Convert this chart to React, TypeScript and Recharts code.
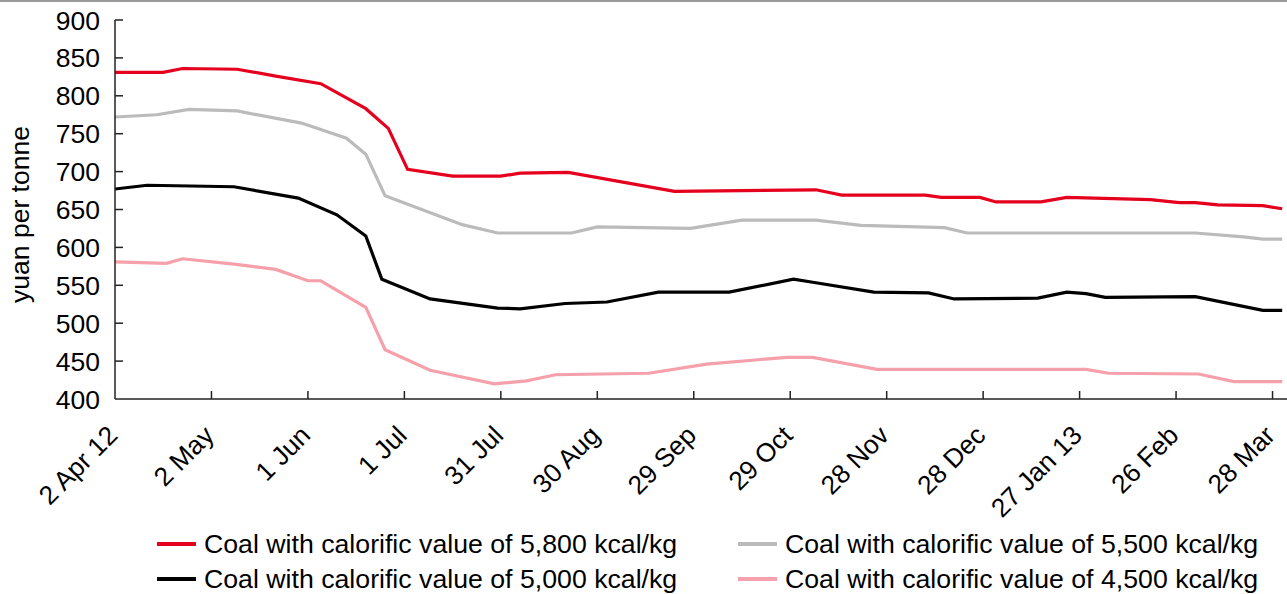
import React from 'react';
import { LineChart, Line, XAxis, YAxis } from 'recharts';

const FONT = '"Liberation Sans", Arial, Helvetica, sans-serif';

// x positions are days since 2 Apr 2012
const tickDays = [0, 30, 60, 90, 120, 150, 180, 210, 240, 270, 300, 330, 360];
const tickLabels = ['2 Apr 12', '2 May', '1 Jun', '1 Jul', '31 Jul', '30 Aug', '29 Sep', '29 Oct', '28 Nov', '28 Dec', '27 Jan 13', '26 Feb', '28 Mar'];
const yTicks = [400, 450, 500, 550, 600, 650, 700, 750, 800, 850, 900];

const redDays = [0, 15, 21, 38, 50, 64, 78, 85, 91, 105, 120, 126, 141, 174, 218, 226, 252, 257, 269, 274, 288, 296, 322, 331, 336, 343, 357, 363];
const redValues = [831, 831, 836, 835, 826, 816, 783, 757, 703, 694, 694, 698, 699, 674, 676, 669, 669, 666, 666, 660, 660, 666, 663, 659, 659, 656, 655, 651];

const grayDays = [0, 13, 23, 38, 58, 72, 78, 84, 108, 119, 142, 150, 179, 195, 218, 232, 258, 265, 336, 351, 357, 363];
const grayValues = [772, 775, 782, 780, 764, 744, 723, 668, 630, 619, 619, 627, 625, 636, 636, 629, 626, 619, 619, 614, 611, 611];

const blackDays = [0, 10, 37, 57, 69, 78, 83, 98, 119, 126, 140, 153, 169, 191, 211, 217, 236, 253, 261, 287, 296, 302, 308, 336, 357, 363];
const blackValues = [677, 682, 680, 665, 643, 615, 558, 532, 520, 519, 526, 528, 541, 541, 558, 554, 541, 540, 532, 533, 541, 539, 534, 535, 517, 517];

const pinkDays = [0, 16, 21, 37, 50, 60, 64, 78, 84, 98, 118, 128, 137, 166, 184, 209, 217, 237, 302, 309, 337, 348, 363];
const pinkValues = [581, 579, 585, 578, 571, 556, 556, 521, 465, 438, 420, 424, 432, 434, 446, 455, 455, 439, 439, 434, 433, 423, 423];

const seriesNames = [
  'Coal with calorific value of 5,800 kcal/kg',
  'Coal with calorific value of 5,500 kcal/kg',
  'Coal with calorific value of 5,000 kcal/kg',
  'Coal with calorific value of 4,500 kcal/kg',
];
const seriesColors = ['#E5001E', '#BBBBBB', '#000000', '#F5A0AA'];

const zip = (days: number[], vals: number[]) => days.map((d, i) => ({ day: d, value: vals[i] }));

const series = [
  { name: seriesNames[0], color: seriesColors[0], data: zip(redDays, redValues) },
  { name: seriesNames[1], color: seriesColors[1], data: zip(grayDays, grayValues) },
  { name: seriesNames[2], color: seriesColors[2], data: zip(blackDays, blackValues) },
  { name: seriesNames[3], color: seriesColors[3], data: zip(pinkDays, pinkValues) },
];

const XTick = (props: any) => {
  const { x, y, payload } = props;
  const idx = tickDays.indexOf(payload.value);
  const label = idx >= 0 ? tickLabels[idx] : '';
  const ax = x + 4;
  const ay = y + 38;
  return (
    <g>
      {idx > 0 && <line x1={x} y1={y} x2={x} y2={y - 8} stroke="#222" strokeWidth={1.5} />}
      <text x={ax} y={ay} textAnchor="end" transform={`rotate(-45, ${ax}, ${ay})`} fontFamily={FONT} fontSize={26.3} fill="#000">
        {label}
      </text>
    </g>
  );
};

const YTick = (props: any) => {
  const { x, y, payload } = props;
  return (
    <g>
      {payload.value !== 400 && <line x1={x} y1={y} x2={x + 8} y2={y} stroke="#222" strokeWidth={1.5} />}
      <text x={x - 15} y={y} dy="0.36em" textAnchor="end" fontFamily={FONT} fontSize={26.5} fill="#000">
        {payload.value}
      </text>
    </g>
  );
};

const YLabel = (props: any) => {
  const vb = props.viewBox || { x: 0, y: 20, width: 115, height: 379 };
  const cx = vb.x + 29;
  const cy = vb.y + vb.height / 2 + 5;
  return (
    <text x={cx} y={cy} textAnchor="middle" transform={`rotate(-90, ${cx}, ${cy})`} fontFamily={FONT} fontSize={26.5} fill="#000">
      yuan per tonne
    </text>
  );
};

const legendPos = [
  { left: 157, top: 544 },
  { left: 738, top: 544 },
  { left: 157, top: 579 },
  { left: 738, top: 579 },
];

export default function App() {
  return (
    <div style={{ position: 'absolute', left: 0, top: 0, width: 1287, height: 594, background: '#fff', overflow: 'hidden' }}>
      <div style={{ position: 'absolute', left: 0, top: 0, width: 1287, height: 0, borderTop: '2px solid #9a9a9a' }} />
      <LineChart width={1287} height={594} margin={{ top: 20, right: 0, bottom: 0, left: 0 }}>
        <XAxis
          dataKey="day"
          type="number"
          domain={[0, 364.5]}
          ticks={tickDays}
          interval={0}
          tick={<XTick />}
          tickLine={false}
          tickSize={0}
          tickMargin={0}
          height={195}
          axisLine={{ stroke: '#222', strokeWidth: 1.5 }}
          allowDataOverflow
        />
        <YAxis
          type="number"
          domain={[400, 900]}
          ticks={yTicks}
          interval={0}
          tick={<YTick />}
          tickLine={false}
          tickSize={0}
          tickMargin={0}
          width={115}
          axisLine={{ stroke: '#222', strokeWidth: 1.5 }}
          label={<YLabel />}
        />
        {series.map((s) => (
          <Line
            key={s.name}
            data={s.data}
            dataKey="value"
            name={s.name}
            type="linear"
            stroke={s.color}
            strokeWidth={3.2}
            dot={false}
            activeDot={false}
            isAnimationActive={false}
          />
        ))}
      </LineChart>
      {series.map((s, i) => (
        <div
          key={s.name}
          style={{
            position: 'absolute',
            left: legendPos[i].left,
            top: legendPos[i].top - 16,
            height: 32,
            display: 'flex',
            alignItems: 'center',
            whiteSpace: 'nowrap',
          }}
        >
          <span style={{ display: 'inline-block', width: 39, height: 3.5, background: s.color, marginRight: 8 }} />
          <span style={{ fontFamily: FONT, fontSize: 26.7, lineHeight: '32px', color: '#000' }}>{s.name}</span>
        </div>
      ))}
    </div>
  );
}
